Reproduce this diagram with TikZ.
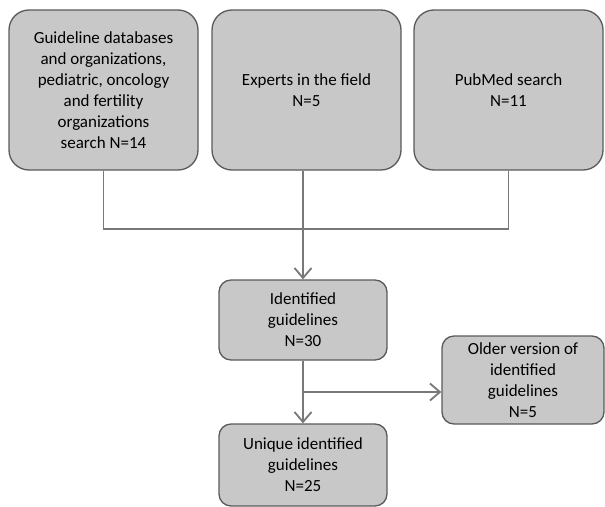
\documentclass[tikz,border=0pt]{standalone}
\usepackage{fontspec}
\setmainfont{Carlito}
\usetikzlibrary{arrows.meta,calc}
\definecolor{boxfill}{RGB}{200,200,200}
\definecolor{boxline}{RGB}{90,90,90}
\definecolor{wire}{RGB}{120,120,120}
\tikzset{
  bigbox/.style={draw=boxline,fill=boxfill,line width=1.3pt,rounded corners=20pt,
    minimum width=189pt,minimum height=160pt,align=center,font=\fontsize{17}{21}\selectfont},
  smallbox/.style={draw=boxline,fill=boxfill,line width=1.3pt,rounded corners=12pt,
    minimum width=168pt,align=center,font=\fontsize{17}{21}\selectfont},
  link/.style={draw=wire,line width=1.8pt},
  linkarrow/.style={link,-{Straight Barb[length=10pt,width=17pt,line width=1.8pt]}}
}
\begin{document}
\begin{tikzpicture}[x=1pt,y=-1pt]
        \useasboundingbox (0,0) rectangle (605,506);
        %% Sources
        \node[bigbox] (guide) at (103.5,90) {Guideline databases\\and organizations,\\pediatric, oncology\\and fertility\\organizations\\search N=14};
        \node[bigbox] (experts) at (306.5,90) {Experts in the field\\N=5};
        \node[bigbox] (pubmed) at (508.5,90) {PubMed search\\N=11};
        %% Results
        \node[smallbox,minimum height=80pt] (ident) at (303,320) {Identified\\guidelines\\N=30};
        \node[smallbox,minimum height=82pt] (uniq) at (303,465) {Unique identified\\guidelines\\N=25};
        \node[smallbox,minimum width=162pt,minimum height=88pt] (older) at (523,380) {Older version of\\identified\\guidelines\\N=5};
        %% Connectors
        \coordinate (join) at (ident.north |- 0,229);
        \coordinate (branch) at ($(ident.south)!0.5!(uniq.north)$);
        \draw[link] (guide.south) |- (join);
        \draw[link] (pubmed.south) |- (join);
        \draw[linkarrow] (experts.south -| ident.north) -- (ident.north);
        \draw[linkarrow] (ident.south) -- (uniq.north);
        \draw[linkarrow] (branch) -- (older.west |- branch);
\end{tikzpicture}
\end{document}
